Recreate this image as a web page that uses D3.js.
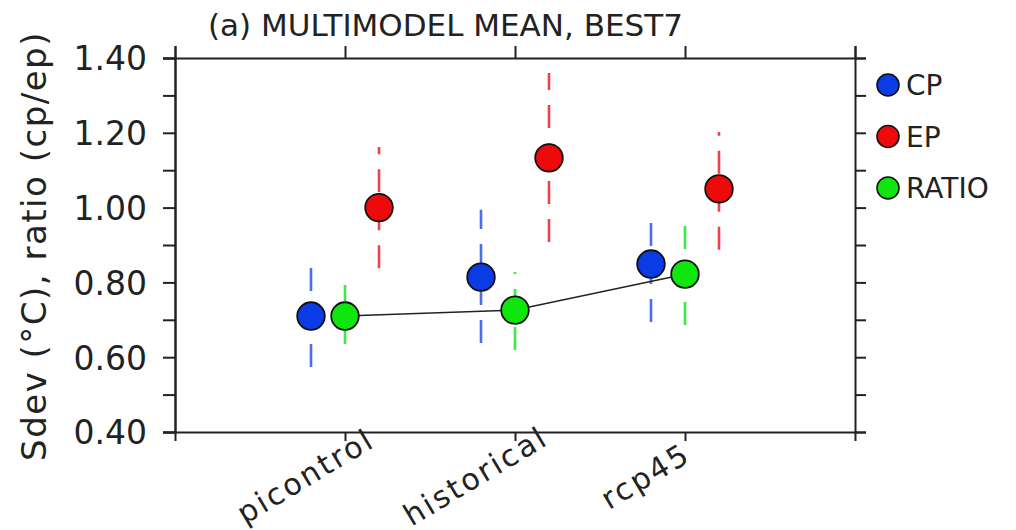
<!DOCTYPE html>
<html><head><meta charset="utf-8">
<script src="https://cdn.jsdelivr.net/npm/d3@7"></script>
<style>body{margin:0;background:#fff}svg{display:block}text{font-family:"DejaVu Sans",sans-serif;fill:#222}</style>
</head><body>
<svg id="c" width="1016" height="530"></svg>
<script>
const categories = ["picontrol", "historical", "rcp45"];
const seriesNames = ["CP", "EP", "RATIO"];
const cpMean = [0.71, 0.814, 0.849];
const cpLow = [0.574, 0.638, 0.694];
const cpHigh = [0.841, 0.994, 0.961];
const epMean = [1.0, 1.133, 1.05];
const epLow = [0.838, 0.908, 0.887];
const epHigh = [1.162, 1.36, 1.202];
const ratioMean = [0.71, 0.726, 0.822];
const ratioLow = [0.635, 0.619, 0.686];
const ratioHigh = [0.793, 0.828, 0.951];
const yTicks = [0.4, 0.6, 0.8, 1.0, 1.2, 1.4];
const yMinor = [0.5, 0.7, 0.9, 1.1, 1.3];

const fills = {CP: "#0a3ce6", EP: "#ee0a0a", RATIO: "#0ee60e"};
const barCols = {CP: "#4a6ef0", EP: "#f0404a", RATIO: "#3ee84a"};
const offsets = {CP: -0.2, EP: 0.2, RATIO: 0};

const svg = d3.select("#c");
const x = d3.scaleLinear().domain([0, 4]).range([175, 855]);
const y = d3.scaleLinear().domain([0.4, 1.4]).range([432, 58]);

const series = [
  {name: "CP", mean: cpMean, low: cpLow, high: cpHigh},
  {name: "EP", mean: epMean, low: epLow, high: epHigh},
  {name: "RATIO", mean: ratioMean, low: ratioLow, high: ratioHigh}
];

// error bars
series.forEach(s => {
  svg.append("g").selectAll("line").data(categories).join("line")
    .attr("x1", (d, i) => x(i + 1 + offsets[s.name]))
    .attr("x2", (d, i) => x(i + 1 + offsets[s.name]))
    .attr("y1", (d, i) => y(s.low[i]))
    .attr("y2", (d, i) => y(s.high[i]))
    .attr("stroke", barCols[s.name]).attr("stroke-width", 2.6)
    .attr("stroke-dasharray", "23,15");
});

// ratio connecting line
svg.append("path")
  .attr("d", d3.line().x((d, i) => x(i + 1)).y(d => y(d))(ratioMean))
  .attr("fill", "none").attr("stroke", "#222").attr("stroke-width", 1.5);

// markers
series.forEach(s => {
  svg.append("g").selectAll("circle").data(s.mean).join("circle")
    .attr("cx", (d, i) => x(i + 1 + offsets[s.name]))
    .attr("cy", d => y(d))
    .attr("r", 13.8)
    .attr("fill", fills[s.name]).attr("stroke", "#111").attr("stroke-width", 1.8);
});

// axes
function styleAxis(g) {
  g.select(".domain").attr("stroke", "#222").attr("stroke-width", 2);
  g.selectAll(".tick line").attr("stroke", "#222").attr("stroke-width", 2);
}
svg.append("g").attr("transform", `translate(${x(0)},0)`)
  .call(d3.axisLeft(y).tickValues(yTicks).tickFormat(d3.format(".2f")).tickSize(12).tickPadding(16))
  .call(styleAxis)
  .call(g => g.selectAll(".tick text").attr("font-size", 33).attr("fill", "#222").attr("dy", "0.36em"));
svg.append("g").attr("transform", `translate(${x(0)},0)`)
  .call(d3.axisLeft(y).tickValues(yMinor).tickFormat("").tickSize(12))
  .call(styleAxis);
svg.append("g").attr("transform", `translate(${x(4)},0)`)
  .call(d3.axisRight(y).tickValues(yTicks.concat(yMinor)).tickFormat("").tickSize(11))
  .call(styleAxis);
svg.append("g").attr("transform", `translate(0,${y(1.4)})`)
  .call(d3.axisTop(x).tickValues([0, 1, 2, 3, 4]).tickFormat("").tickSize(12))
  .call(styleAxis);
const xb = svg.append("g").attr("transform", `translate(0,${y(0.4)})`)
  .call(d3.axisBottom(x).tickValues([1, 2, 3]).tickFormat((d) => categories[d - 1]).tickSize(9))
  .call(styleAxis);
xb.selectAll(".tick text")
  .attr("font-size", 30).attr("fill", "#333").attr("letter-spacing", 2.5)
  .attr("text-anchor", "middle")
  .attr("x", 0).attr("y", 0).attr("dy", "0.35em")
  .attr("transform", "translate(-40,44) rotate(-31)");

// y title
svg.append("text")
  .attr("transform", "translate(46,246) rotate(-90)")
  .attr("text-anchor", "middle").attr("font-size", 34).attr("letter-spacing", 1.5).attr("fill", "#333")
  .text("Sdev (°C), ratio (cp/ep)");

// title
svg.append("text").attr("x", 208).attr("y", 36).attr("font-size", 31).attr("fill", "#333")
  .text("(a) MULTIMODEL MEAN, BEST7");

// legend
const lg = svg.append("g").selectAll("g").data(seriesNames).join("g")
  .attr("transform", (d, i) => `translate(888,${85 + i * 51.5})`);
lg.append("circle").attr("r", 11).attr("fill", d => fills[d]).attr("stroke", "#111").attr("stroke-width", 1.6);
lg.append("text").attr("x", 18).attr("y", 10).attr("font-size", 28).attr("fill", "#333").text(d => d);
</script>
</body></html>
